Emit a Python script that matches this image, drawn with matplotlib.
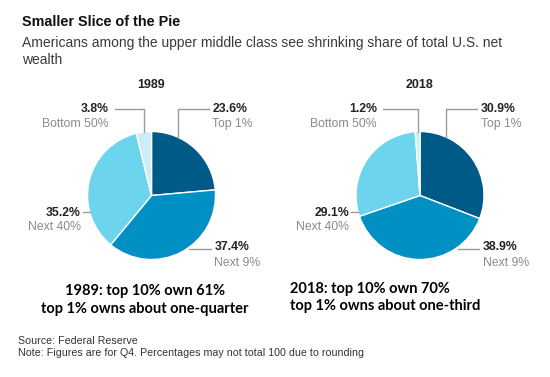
import matplotlib
matplotlib.use("Agg")
import matplotlib.pyplot as plt
import numpy as np

# ---------------- data ----------------
groups = ["Top 1%", "Next 9%", "Next 40%", "Bottom 50%"]
years = ["1989", "2018"]
shares_1989 = [23.6, 37.4, 35.2, 3.8]
shares_2018 = [30.9, 38.9, 29.1, 1.2]
colors = ["#005a88", "#0090c3", "#6dd4ee", "#c9eef8"]
notes_1989 = ["1989: top 10% own 61%", "top 1% owns about one-quarter"]
notes_2018 = ["2018: top 10% own 70%", "top 1% owns about one-third"]
title = "Smaller Slice of the Pie"
subtitle = ["Americans among the upper middle class see shrinking share of total U.S. net",
            "wealth"]
source = ["Source: Federal Reserve",
          "Note: Figures are for Q4. Percentages may not total 100 due to rounding"]

# ---------------- layout ----------------
W, H = 550, 377
fig = plt.figure(figsize=(5.5, 3.77), dpi=100)
ax = fig.add_axes([0, 0, 1, 1])


def Y(py):
    return H - py


def T(py):
    # text centre correction (matplotlib includes descent in 'center')
    return H - py - 1.5


FONT = ["Liberation Sans", "DejaVu Sans"]
NOTEFONT = ["Lato", "DejaVu Sans"]
R = 64
centers = [(151.5, 195.5), (420, 195.5)]
all_shares = [shares_1989, shares_2018]
LS = 8.8

for (cx, cy), vals, yr in zip(centers, all_shares, years):
    wedges, _ = ax.pie(vals, colors=colors, startangle=90, counterclock=False,
                       center=(cx, Y(cy)), radius=R, frame=True,
                       wedgeprops=dict(edgecolor="white", linewidth=1.0))
    angs = {g: (w.theta1, w.theta2) for g, w in zip(groups, wedges)}

    ax.text(cx, T(84), yr, ha="center", va="center", fontsize=9,
            fontweight="bold", color="#222222", family=FONT)

    pct = {g: f"{v:.1f}%" for g, v in zip(groups, vals)}
    lc = "#9a9a9a"
    # Top 1%: elbow leader (vertical then horizontal)
    xv = cx + 26
    yv = cy - np.sqrt(R**2 - 26**2)
    ly = cy - 87
    ax.plot([xv, xv, cx + 57], [Y(yv), Y(ly), Y(ly)], color=lc, lw=1)
    ax.text(cx + 61, T(ly - 0.5), pct["Top 1%"], ha="left", va="center",
            fontsize=LS, fontweight="bold", color="#222222", family=FONT)
    ax.text(cx + 61, T(ly + 14), "Top 1%", ha="left", va="center",
            fontsize=LS, color="#8a8a8a", family=FONT)

    # Bottom 50%: elbow leader at mid-angle of its wedge
    t1, t2 = angs["Bottom 50%"]
    mid = np.deg2rad((t1 + t2) / 2)
    xb = cx + R * np.cos(mid)
    yb = cy - R * np.sin(mid)
    ax.plot([xb, xb, cx - 37], [Y(yb), Y(ly), Y(ly)], color=lc, lw=1)
    ax.text(cx - 43, T(ly - 0.5), pct["Bottom 50%"], ha="right", va="center",
            fontsize=LS, fontweight="bold", color="#222222", family=FONT)
    ax.text(cx - 43, T(ly + 14), "Bottom 50%", ha="right", va="center",
            fontsize=LS, color="#8a8a8a", family=FONT)

    # Next 40%: short horizontal leader on left
    y40 = cy + 16.5
    x40 = cx - np.sqrt(R**2 - 16.5**2)
    ax.plot([cx - 69, x40], [Y(y40), Y(y40)], color=lc, lw=1)
    ax.text(cx - 71, T(y40), pct["Next 40%"], ha="right", va="center",
            fontsize=LS, fontweight="bold", color="#222222", family=FONT)
    ax.text(cx - 71, T(y40 + 13.5), "Next 40%", ha="right", va="center",
            fontsize=LS, color="#8a8a8a", family=FONT)

    # Next 9%: horizontal leader on lower right
    y9 = cy + 53
    x9 = cx + np.sqrt(R**2 - 53**2)
    ax.plot([x9 + 2, cx + 59], [Y(y9), Y(y9)], color=lc, lw=1)
    ax.text(cx + 63, T(y9 - 2.5), pct["Next 9%"], ha="left", va="center",
            fontsize=LS, fontweight="bold", color="#222222", family=FONT)
    ax.text(cx + 63, T(y9 + 12.5), "Next 9%", ha="left", va="center",
            fontsize=LS, color="#8a8a8a", family=FONT)

ax.set_xlim(0, W)
ax.set_ylim(0, H)
ax.set_aspect("auto")
ax.axis("off")

# titles
ax.text(22, T(21), title, ha="left", va="center", fontsize=10.4,
        fontweight="bold", color="#111111", family=FONT)
ax.text(22, T(41), subtitle[0], ha="left", va="center", fontsize=10.0,
        color="#3a3a3a", family=FONT)
ax.text(22, T(58), subtitle[1], ha="left", va="center", fontsize=10.0,
        color="#3a3a3a", family=FONT)

# annotations
ax.text(145, T(290), notes_1989[0], ha="center", va="center", fontsize=10.5,
        fontweight="bold", color="#000000", family=NOTEFONT)
ax.text(145, T(308), notes_1989[1], ha="center", va="center", fontsize=10.5,
        fontweight="bold", color="#000000", family=NOTEFONT)
ax.text(290, T(287), notes_2018[0], ha="left", va="center", fontsize=10.5,
        fontweight="bold", color="#000000", family=NOTEFONT)
ax.text(290, T(304.5), notes_2018[1], ha="left", va="center", fontsize=10.5,
        fontweight="bold", color="#000000", family=NOTEFONT)

# source
ax.text(18, T(340), source[0], ha="left", va="center", fontsize=7.7,
        color="#333333", family=FONT)
ax.text(18, T(352), source[1], ha="left", va="center", fontsize=7.7,
        color="#333333", family=FONT)

fig.savefig("out.png", dpi=100, facecolor="white")
